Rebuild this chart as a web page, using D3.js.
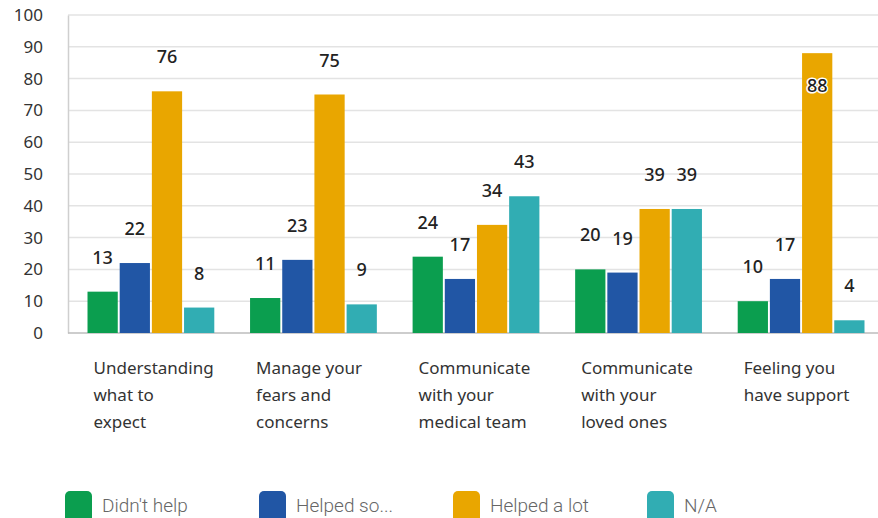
<!DOCTYPE html>
<html>
<head>
<meta charset="utf-8">
<script src="https://cdn.jsdelivr.net/npm/d3@7/dist/d3.min.js"></script>
<style>
  body { margin: 0; background: #fff; }
  svg { display: block; font-family: "Noto Sans", "Open Sans", sans-serif; }
</style>
</head>
<body>
<div id="viz"></div>
<script>
// Data.
var categories = [
  ["Understanding", "what to", "expect"],
  ["Manage your", "fears and", "concerns"],
  ["Communicate", "with your", "medical team"],
  ["Communicate", "with your", "loved ones"],
  ["Feeling you", "have support"]
];
var series = ["Didn't help", "Helped so...", "Helped a lot", "N/A"];
var didntHelp = [13, 11, 24, 20, 10];
var helpedSome = [22, 23, 17, 19, 17];
var helpedLot = [76, 75, 34, 39, 88];
var notApplicable = [8, 9, 43, 39, 4];
var yTicks = [0, 10, 20, 30, 40, 50, 60, 70, 80, 90, 100];

var values = [didntHelp, helpedSome, helpedLot, notApplicable];
var colours = ["#0b9e4f", "#2156a5", "#e9a600", "#31adb3"];

var width = 878, height = 518;
var plotLeft = 68, plotTop = 15, plotBottom = 333;

var svg = d3.select("#viz")
  .append("svg")
  .attr("width", width)
  .attr("height", height);

var keys = d3.range(categories.length);

var x = d3.scaleBand()
  .domain(keys)
  .range([plotLeft, plotLeft + 5 * 163.2])
  .paddingInner(0.22)
  .paddingOuter(0.12);

var xs = d3.scaleBand()
  .domain(d3.range(series.length))
  .range([0, x.bandwidth()])
  .paddingInner(0.06);

var y = d3.scaleLinear()
  .domain([0, 100])
  .range([plotBottom, plotTop]);

// Grid lines.
svg.append("g")
  .selectAll("line")
  .data(yTicks.filter(function (d) { return d > 0; }))
  .join("line")
  .attr("x1", plotLeft)
  .attr("x2", width)
  .attr("y1", function (d) { return y(d); })
  .attr("y2", function (d) { return y(d); })
  .style("stroke", "#e3e3e3")
  .style("stroke-width", 1.5);

// Y axis.
var yAxis = svg.append("g")
  .attr("transform", "translate(" + plotLeft + ",0)")
  .call(d3.axisLeft(y).tickValues(yTicks).tickSize(0).tickPadding(25));
yAxis.select(".domain").style("stroke", "#cfcfcf").style("stroke-width", 1.5);
yAxis.selectAll("text")
  .style("font-size", "17px")
  .style("fill", "#333")
  .style("font-family", "\"Noto Sans\", sans-serif");

// Baseline.
svg.append("line")
  .attr("x1", plotLeft)
  .attr("x2", width)
  .attr("y1", y(0))
  .attr("y2", y(0))
  .style("stroke", "#bdbdbd")
  .style("stroke-width", 1.5);

// Bars and labels.
for (var s = 0; s < series.length; s++) {
  for (var i = 0; i < keys.length; i++) {
    var v = values[s][i];
    var bx = x(i) + xs(s);
    svg.append("rect")
      .attr("x", bx)
      .attr("y", y(v))
      .attr("width", xs.bandwidth())
      .attr("height", y(0) - y(v))
      .style("fill", colours[s]);

    // the 88 label sits inside its bar, with a white halo
    var inside = v > 80;
    svg.append("text")
      .attr("x", bx + xs.bandwidth() / 2)
      .attr("y", inside ? y(v) + 39 : y(v) - 28)
      .attr("text-anchor", "middle")
      .style("font-size", "18px")
      .style("font-weight", 500)
      .style("fill", "#222")
      .style("paint-order", "stroke")
      .style("stroke", inside ? "#fff" : "none")
      .style("stroke-width", 3)
      .text(v);
  }
}

// Category labels.
for (var i = 0; i < categories.length; i++) {
  var t = svg.append("text")
    .attr("x", x(i) + 6)
    .attr("y", 374)
    .style("font-size", "17px")
    .style("fill", "#333");
  categories[i].forEach(function (line, k) {
    t.append("tspan")
      .attr("x", x(i) + 6)
      .attr("dy", k === 0 ? 0 : 27)
      .text(line);
  });
}

// Legend.
var legend = svg.append("g");
for (var s = 0; s < series.length; s++) {
  var lx = 65 + s * 194;
  legend.append("rect")
    .attr("x", lx)
    .attr("y", 491)
    .attr("width", 27)
    .attr("height", 32)
    .attr("rx", 5)
    .style("fill", colours[s]);
  legend.append("text")
    .attr("x", lx + 37)
    .attr("y", 512)
    .style("font-size", "19px")
    .style("font-family", "Roboto, sans-serif")
    .style("font-weight", 300)
    .style("fill", "#666")
    .text(series[s]);
}
</script>
</body>
</html>
